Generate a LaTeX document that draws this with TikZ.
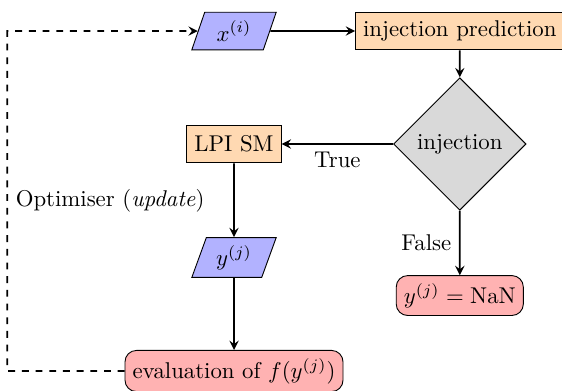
\documentclass[tikz,border=0pt]{standalone}
\usetikzlibrary{shapes.geometric,arrows}

\begin{document}
\begin{tikzpicture}[scale=0.1]
		 \tikzstyle{io}=[trapezium, trapezium left angle=70, trapezium right angle=110, trapezium stretches body, draw, fill=blue!30, minimum width=37pt, minimum height=16.5pt]
		 \tikzstyle{process}=[rectangle, draw, fill=orange!30, minimum height=16.5pt]
		 \tikzstyle{decision}=[diamond, draw, fill=gray!30, aspect=1, inner sep=3pt]
		 \tikzstyle{result}=[rectangle, rounded corners=5pt, draw, fill=red!30, minimum height=16.5pt]
		 \tikzstyle{arrow}=[thick, -stealth]
		 \useasboundingbox (0,0) rectangle (86.6,-60.25);
		 \node [io] (xi) at (36.06,-4.78) {$x^{(i)}$};
		 \node [process] (pred) at (70.85,-4.78) {injection prediction};
		 \node [decision] (dia) at (70.85,-22.19) {injection};
		 \node [process] (lpi) at (36.06,-22.19) {LPI SM};
		 \node [io] (yj) at (36.06,-39.68) {$y^{(j)}$};
		 \node [result] (eval) at (36.06,-57.17) {evaluation of $f(y^{(j)})$};
		 \node [result] (nan) at (70.85,-45.54) {$y^{(j)} = \mathrm{NaN}$};
		 \coordinate (loopbot) at (1.12,-57.17);
		 \coordinate (looptop) at (1.12,-4.78);
		 \draw [arrow] (xi) -- (pred);
		 \draw [arrow] (pred) -- (dia);
		 \draw [arrow] (dia) -- node [below] {True} (lpi);
		 \draw [arrow] (lpi) -- (yj);
		 \draw [arrow] (yj) -- (eval);
		 \draw [arrow] (dia) -- node [left] {False} (nan);
		 \draw [arrow, dashed] (eval.west) -- (loopbot) -- node [right] {Optimiser (\emph{update})} (looptop) -- (xi.west);
	 \end{tikzpicture}
\end{document}
